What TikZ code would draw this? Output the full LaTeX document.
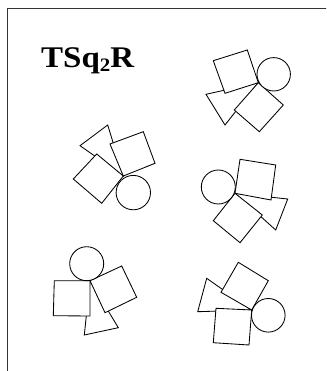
\documentclass[tikz,border=0pt]{standalone}
\usepackage{fontspec}
\setmainfont{Liberation Serif}
\begin{document}
\begin{tikzpicture}[x=1pt,y=-1pt,
  shp/.style={draw=black, fill=white, line width=0.85pt, line join=miter},
  frame/.style={draw=black!80, line width=1.3pt}]
\useasboundingbox (0,0) rectangle (326,371);
\clip (0,0) rectangle (326,371);
\draw[frame] (7.5,400) -- (7.5,8.5) -- (400,8.5);
% title
\node[anchor=base west, inner sep=0pt] (title) at (41,68)
  {\scalebox{1.1}[1]{\fontsize{30}{30}\selectfont\bfseries TSq\raisebox{-3.5pt}{\fontsize{19}{19}\selectfont 2}R}};
% group 1 (top right)
\coordinate (p1) at (258.3,82.7);
\draw[shp] (206,94.3) -- (p1) -- (225,125) -- cycle;
\draw[shp] (213.3,60.7) -- (247.3,50) -- (p1) -- (225,93.3) -- cycle;
\draw[shp] (p1) -- (283.3,105) -- (259.3,131.7) -- (234.3,110) -- cycle;
\draw[shp] (273.7,74.3) circle[radius=16.7];
% group 2
\coordinate (p2) at (123.3,176);
\draw[shp] (80,145.7) -- (107.7,125) -- (p2) -- cycle;
\draw[shp] (110,144) -- (143.3,131.7) -- (155,163.3) -- (p2) -- cycle;
\draw[shp] (96.7,154) -- (p2) -- (101.7,203.3) -- (73.3,179) -- cycle;
\draw[shp] (133.3,192.6) circle[radius=17.2];
% group 3
\coordinate (p3) at (235,193.3);
\draw[shp] (p3) -- (287.7,199) -- (275.7,230) -- cycle;
\draw[shp] (240,159.3) -- (275.7,165) -- (271,200) -- (p3) -- cycle;
\draw[shp] (p3) -- (262.3,215) -- (240,242.7) -- (213.3,220.7) -- cycle;
\draw[shp] (218.3,187) circle[radius=17];
% group 4
\coordinate (p4) at (90,280.7);
\draw[shp] (p4) -- (118.3,327.7) -- (84.3,335) -- cycle;
\draw[shp] (54.3,280.7) -- (p4) -- (90,316) -- (53.3,315.7) -- cycle;
\draw[shp] (p4) -- (121.7,266) -- (136.7,297.3) -- (105,312.7) -- cycle;
\draw[shp] (86.7,263.7) circle[radius=17];
% group 5
\coordinate (p5) at (251.7,310);
\draw[shp] (206.7,278.3) -- (p5) -- (197.7,311.7) -- cycle;
\draw[shp] (238.3,262.3) -- (268.3,280.7) -- (p5) -- (221,292.3) -- cycle;
\draw[shp] (216,308.3) -- (p5) -- (249,345) -- (213.3,342.7) -- cycle;
\draw[shp] (268.3,315.3) circle[radius=16.8];
\end{tikzpicture}
\end{document}
